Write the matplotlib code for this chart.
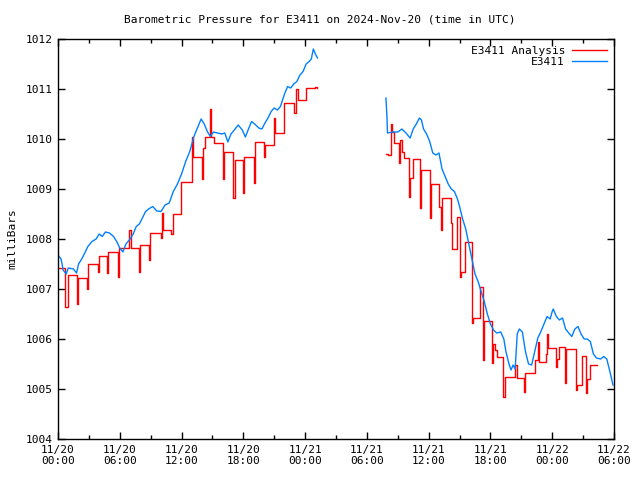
"""Barometric pressure for E3411: station obs vs analysis, gnuplot-like look."""
import matplotlib
matplotlib.use("Agg")
import matplotlib.pyplot as plt
from matplotlib.ticker import MultipleLocator
import numpy as np

# hours since 2024-11-20 00:00 UTC
ana_hours_a = [0.0, 0.65, 0.95, 1.85, 1.95, 2.8, 2.9, 3.85, 3.95, 4.8, 4.9, 5.8, 5.9,
               6.9, 7.05, 7.9, 8.0, 8.85, 8.95, 10.0, 10.1, 10.2, 11.0, 11.15, 11.95,
               13.0, 13.15, 13.95, 14.05, 14.3, 14.75, 14.9, 15.15, 16.0, 16.1, 17.0,
               17.15, 17.95, 18.1, 19.0, 19.1, 20.05, 20.15, 21.0, 21.1, 21.95, 22.95,
               23.15, 23.3, 24.1, 25.0, 25.15]
ana_vals_a = [1007.42, 1006.65, 1007.28, 1006.7, 1007.22, 1007.0, 1007.5, 1007.34, 1007.66,
              1007.32, 1007.74, 1007.24, 1007.82, 1008.18, 1007.82, 1007.34, 1007.88,
              1007.58, 1008.12, 1008.02, 1008.52, 1008.18, 1008.1, 1008.5, 1009.14,
              1010.04, 1009.64, 1009.2, 1009.82, 1010.04, 1010.6, 1010.04, 1009.92,
              1009.2, 1009.74, 1008.82, 1009.58, 1008.92, 1009.64, 1009.12, 1009.94,
              1009.64, 1009.88, 1010.42, 1010.12, 1010.72, 1010.52, 1011.0, 1010.78,
              1011.02, 1011.04, 1011.02]

ana_hours_b = [31.85, 32.05, 32.35, 32.45, 32.6, 33.1, 33.2, 33.45, 33.65, 34.1, 34.2, 34.45,
               35.15, 35.25, 36.1, 36.2, 37.0, 37.2, 37.3, 38.15, 38.25, 38.75, 39.0, 39.1,
               39.55, 40.2, 40.3, 40.95, 41.25, 41.35, 42.15, 42.25, 42.45, 42.6, 43.2,
               43.45, 44.35, 44.6, 45.25, 45.4, 46.35, 46.6, 46.7, 47.4, 47.5, 47.6, 48.35,
               48.5, 48.65, 49.25, 49.35, 50.3, 50.4, 50.9, 51.3, 51.4, 51.65, 52.35]
ana_vals_b = [1009.7, 1009.68, 1010.3, 1010.14, 1009.92, 1009.52, 1009.98, 1009.74, 1009.62,
              1008.84, 1009.22, 1009.6, 1008.62, 1009.38, 1008.42, 1009.1, 1008.64, 1008.18,
              1008.82, 1008.32, 1007.8, 1008.44, 1007.24, 1007.34, 1007.94, 1006.32,
              1006.42, 1007.04, 1005.58, 1006.36, 1005.52, 1005.9, 1005.78, 1005.64,
              1004.84, 1005.24, 1005.48, 1005.22, 1004.95, 1005.32, 1005.58, 1005.94,
              1005.54, 1005.7, 1006.1, 1005.82, 1005.44, 1005.6, 1005.84, 1005.12, 1005.8,
              1004.98, 1005.08, 1005.66, 1004.92, 1005.2, 1005.48, 1005.48]

obs_hours_a = [0.0, 0.3, 0.5, 0.8, 1.0, 1.5, 1.8, 2.0, 2.3, 2.6, 2.9, 3.3, 3.7, 4.0, 4.3,
               4.6, 5.0, 5.4, 5.7, 6.0, 6.3, 6.6, 7.0, 7.3, 7.6, 7.9, 8.2, 8.5, 8.8, 9.2,
               9.6, 10.0, 10.4, 10.8, 11.2, 11.6, 12.0, 12.4, 12.8, 13.2, 13.6, 13.9, 14.2,
               14.5, 14.8, 15.1, 15.5, 15.9, 16.2, 16.5, 16.8, 17.2, 17.5, 17.9, 18.2, 18.5,
               18.8, 19.1, 19.5, 19.8, 20.1, 20.4, 20.7, 21.0, 21.3, 21.6, 22.0, 22.3, 22.6,
               22.9, 23.2, 23.5, 23.8, 24.1, 24.4, 24.6, 24.8, 25.0, 25.2]
obs_vals_a = [1007.68, 1007.6, 1007.38, 1007.3, 1007.42, 1007.4, 1007.32, 1007.5, 1007.6,
              1007.72, 1007.85, 1007.95, 1008.0, 1008.1, 1008.05, 1008.14, 1008.12, 1008.05,
              1007.95, 1007.82, 1007.74, 1007.9, 1008.0, 1008.1, 1008.25, 1008.3, 1008.42,
              1008.55, 1008.6, 1008.65, 1008.56, 1008.55, 1008.68, 1008.72, 1008.95,
              1009.1, 1009.3, 1009.55, 1009.75, 1010.05, 1010.25, 1010.4, 1010.3, 1010.15,
              1010.05, 1010.14, 1010.12, 1010.1, 1010.12, 1009.94, 1010.1, 1010.2, 1010.28,
              1010.18, 1010.04, 1010.2, 1010.35, 1010.3, 1010.22, 1010.2, 1010.32, 1010.42,
              1010.55, 1010.62, 1010.58, 1010.65, 1010.9, 1011.05, 1011.02, 1011.1,
              1011.15, 1011.28, 1011.35, 1011.5, 1011.55, 1011.6, 1011.8, 1011.7, 1011.62]

obs_hours_b = [31.85, 31.95, 32.0, 32.5, 33.0, 33.4, 33.8, 34.2, 34.5, 34.8, 35.1, 35.3,
               35.5, 35.8, 36.1, 36.4, 36.7, 37.0, 37.3, 37.6, 37.9, 38.2, 38.5, 38.8,
               39.0, 39.3, 39.6, 39.9, 40.2, 40.5, 40.8, 41.1, 41.4, 41.7, 42.0, 42.3,
               42.6, 43.0, 43.3, 43.5, 43.8, 44.0, 44.2, 44.4, 44.6, 44.8, 45.1, 45.4,
               45.7, 46.0, 46.3, 46.6, 46.9, 47.2, 47.5, 47.8, 48.0, 48.1, 48.4, 48.7,
               49.0, 49.3, 49.6, 49.9, 50.2, 50.5, 50.8, 51.1, 51.4, 51.7, 52.0, 52.3,
               52.7, 53.0, 53.3, 53.6, 53.9]
obs_vals_b = [1010.82, 1010.44, 1010.12, 1010.14, 1010.14, 1010.2, 1010.12, 1010.02, 1010.2,
              1010.3, 1010.42, 1010.38, 1010.2, 1010.1, 1009.95, 1009.72, 1009.68, 1009.72,
              1009.4, 1009.25, 1009.1, 1009.0, 1008.95, 1008.8, 1008.65, 1008.4, 1008.2,
              1007.9, 1007.6, 1007.3, 1007.15, 1006.95, 1006.75, 1006.5, 1006.3, 1006.18,
              1006.12, 1006.14, 1006.0, 1005.75, 1005.5, 1005.38, 1005.48, 1005.4, 1006.1,
              1006.2, 1006.14, 1005.75, 1005.5, 1005.48, 1005.75, 1006.02, 1006.15, 1006.3,
              1006.45, 1006.4, 1006.55, 1006.6, 1006.45, 1006.38, 1006.42, 1006.2, 1006.12,
              1006.05, 1006.2, 1006.25, 1006.1, 1006.0, 1006.0, 1005.95, 1005.7, 1005.62,
              1005.6, 1005.65, 1005.6, 1005.35, 1005.08]

tick_labels = ["11/20\n00:00", "11/20\n06:00", "11/20\n12:00", "11/20\n18:00",
               "11/21\n00:00", "11/21\n06:00", "11/21\n12:00", "11/21\n18:00",
               "11/22\n00:00", "11/22\n06:00"]

plt.rcParams["font.family"] = "DejaVu Sans Mono"
plt.rcParams["font.size"] = 8

fig = plt.figure(figsize=(6.4, 4.8), dpi=100)
ax = fig.add_axes([58 / 640, 1 - 439 / 480, 556 / 640, 400 / 480])

red, blue = "#ff0000", "#0080ff"
ax.plot(ana_hours_a, ana_vals_a, drawstyle="steps-post", color=red, lw=1.0, label="E3411 Analysis")
ax.plot(ana_hours_b, ana_vals_b, drawstyle="steps-post", color=red, lw=1.0)
ax.plot(obs_hours_a, obs_vals_a, color=blue, lw=1.0, label="E3411")
ax.plot(obs_hours_b, obs_vals_b, color=blue, lw=1.0)

ax.set_xlim(0, 54); ax.set_ylim(1004, 1012)
ax.set_xticks(np.arange(0, 55, 6)); ax.set_xticklabels(tick_labels)
ax.xaxis.set_minor_locator(MultipleLocator(3))
ax.yaxis.set_major_locator(MultipleLocator(1))
ax.yaxis.set_major_formatter(matplotlib.ticker.FormatStrFormatter("%d"))
ax.tick_params(which="both", direction="in", top=True, right=True, width=1.0)
ax.tick_params(which="major", length=5, pad=4)
ax.tick_params(which="minor", length=3)
for s in ax.spines.values():
    s.set_linewidth(1.0)

ax.set_ylabel("milliBars", labelpad=6)
fig.text(0.5, 1 - 20 / 480, "Barometric Pressure for E3411 on 2024-Nov-20 (time in UTC)",
         ha="center", va="center", fontsize=8)
ax.legend(loc="upper right", frameon=False, markerfirst=False, handlelength=3.2,
          borderaxespad=0.2, labelspacing=0.15, handletextpad=0.6)
fig.savefig("out.png", dpi=100)
